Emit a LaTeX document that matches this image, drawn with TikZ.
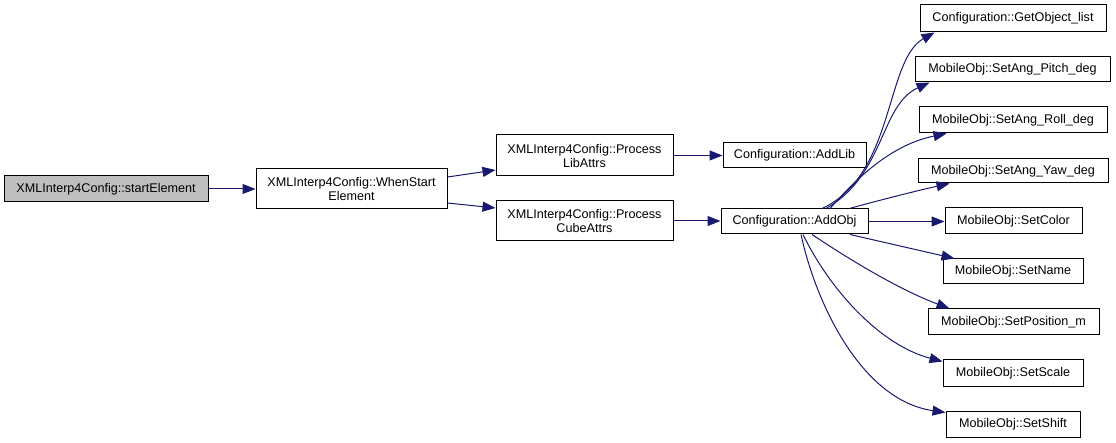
\documentclass[tikz,border=0pt]{standalone}
\usepackage{fontspec}
\setmainfont{Liberation Sans}
\usetikzlibrary{arrows.meta}
\definecolor{edgeblue}{HTML}{191970}
\definecolor{curgray}{HTML}{BFBFBF}
\begin{document}
\begin{tikzpicture}[x=1pt,y=-1pt,
  fn/.style={draw=black,line width=1pt,inner sep=0pt,align=center,
    font=\fontsize{12.6}{14}\selectfont,minimum height=26pt},
  call/.style={draw=edgeblue,line width=1pt,-{Triangle[length=13pt,width=10pt]},fill=none},
]
\useasboundingbox (0,0) rectangle (1116,443);
\node[fn,fill=curgray,minimum width=204pt] (se) at (106,189) {XMLInterp4Config::startElement};
\node[fn,minimum width=191pt,minimum height=40pt] (ws) at (351.5,189) {XMLInterp4Config::WhenStart\\Element};
\node[fn,minimum width=177pt,minimum height=41pt] (pl) at (584.5,155.5) {XMLInterp4Config::Process\\LibAttrs};
\node[fn,minimum width=177pt,minimum height=40pt] (pc) at (584.5,221) {XMLInterp4Config::Process\\CubeAttrs};
\node[fn,minimum width=143pt,minimum height=25pt] (al) at (794.5,155.5) {Configuration::AddLib};
\node[fn,minimum width=147pt,minimum height=25pt] (ao) at (794.5,221.5) {Configuration::AddObj};
\node[fn,minimum width=186pt,minimum height=27pt] (go) at (1013,18.5) {Configuration::GetObject\_list};
\node[fn,minimum width=195pt,minimum height=25pt] (pitch) at (1012.5,69.5) {MobileObj::SetAng\_Pitch\_deg};
\node[fn,minimum width=188pt] (roll) at (1013,120) {MobileObj::SetAng\_Roll\_deg};
\node[fn,minimum width=190pt,minimum height=24pt] (yaw) at (1013,171) {MobileObj::SetAng\_Yaw\_deg};
\node[fn,minimum width=137pt] (color) at (1013.5,221) {MobileObj::SetColor};
\node[fn,minimum width=140pt,minimum height=25pt] (name) at (1013,271.5) {MobileObj::SetName};
\node[fn,minimum width=171pt] (pos) at (1013.5,322) {MobileObj::SetPosition\_m};
\node[fn,minimum width=140pt] (scale) at (1013,373) {MobileObj::SetScale};
\node[fn,minimum width=134pt] (shift) at (1013,424) {MobileObj::SetShift};

\draw[call] (se.east) -- (ws.west);
\draw[call] ([yshift=12pt]ws.east) -- ([yshift=-14.5pt]pl.west);
\draw[call] ([yshift=-14pt]ws.east) -- ([yshift=13pt]pc.west);
\draw[call] (pl.east) -- (al.west);
\draw[call] (pc.east) -- (pc.east -| ao.west);
\draw[call] ([xshift=27.5pt]ao.north) .. controls (895,175) and (885,60) .. ([xshift=15pt]go.south west);
\draw[call] ([xshift=31.5pt]ao.north) .. controls (885,175) and (880,105) .. ([xshift=15pt]pitch.south west);
\draw[call] ([xshift=35.5pt]ao.north) .. controls (855,180) and (890,145) .. ([xshift=28pt]roll.south west);
\draw[call] ([xshift=55pt]ao.north) .. controls (880,200) and (920,190) .. ([xshift=32pt]yaw.south west);
\draw[call] (ao.east) -- (ao.east -| color.west);
\draw[call] ([xshift=55.5pt]ao.south) -- ([xshift=12pt]name.north west);
\draw[call] ([xshift=17.5pt]ao.south) .. controls (850,260) and (900,290) .. ([xshift=22pt]pos.north west);
\draw[call] ([xshift=8.5pt]ao.south) .. controls (830,290) and (880,345) .. ([yshift=-2pt]scale.north west);
\draw[call] ([xshift=6.5pt]ao.south) .. controls (815,300) and (860,400) .. ([yshift=-2pt]shift.north west);
\end{tikzpicture}
\end{document}
